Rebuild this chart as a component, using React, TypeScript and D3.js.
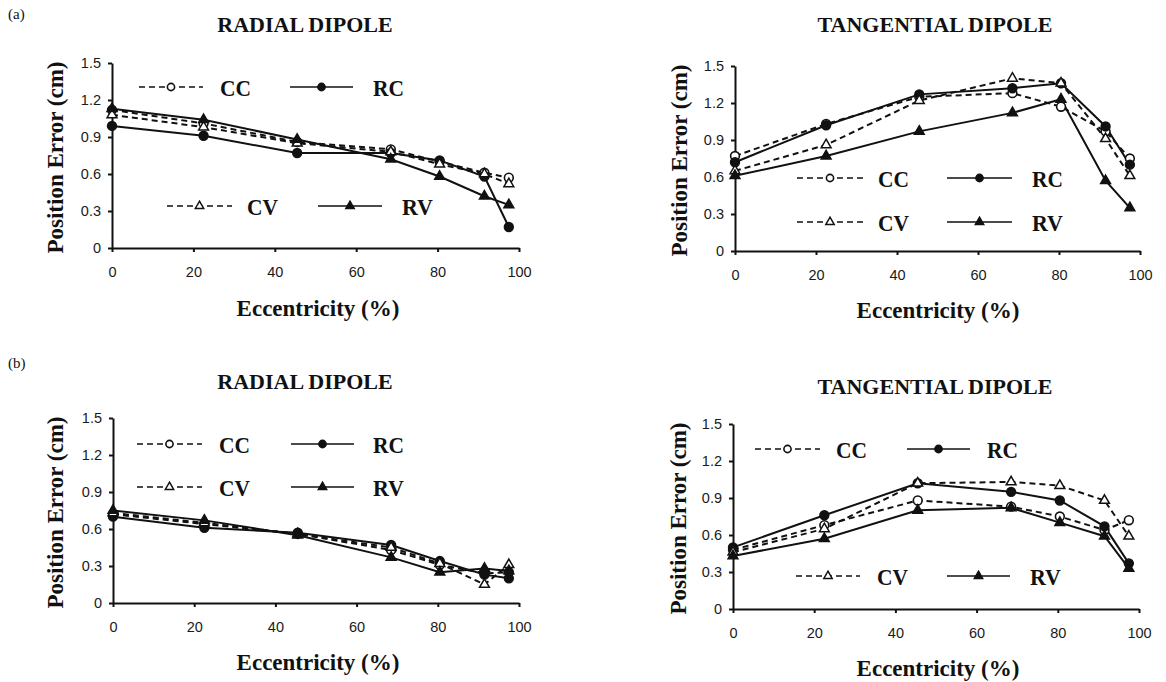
import { useEffect, useRef } from "react";
import * as d3 from "d3";

const W = 1166;
const H = 682;

// eccentricity (%) of the test dipoles, shared by every panel
const eccentricity = [0, 22.5, 45.5, 68.5, 80.5, 91.5, 97.5];
const xTicks = [0, 20, 40, 60, 80, 100];
const yTicks = [0, 0.3, 0.6, 0.9, 1.2, 1.5];
const seriesNames = ["CC", "RC", "CV", "RV"];

// (a) radial dipole, position error (cm)
const aRadialCC = [1.12, 1.01, 0.86, 0.8, 0.7, 0.61, 0.57];
const aRadialRC = [0.99, 0.91, 0.77, 0.77, 0.71, 0.58, 0.17];
const aRadialCV = [1.08, 0.98, 0.85, 0.78, 0.68, 0.6, 0.52];
const aRadialRV = [1.13, 1.04, 0.88, 0.72, 0.58, 0.42, 0.35];

// (a) tangential dipole
const aTangCC = [0.77, 1.03, 1.25, 1.28, 1.17, 0.97, 0.75];
const aTangRC = [0.72, 1.02, 1.27, 1.32, 1.36, 1.01, 0.7];
const aTangCV = [0.65, 0.86, 1.22, 1.4, 1.36, 0.91, 0.61];
const aTangRV = [0.61, 0.77, 0.97, 1.12, 1.23, 0.57, 0.35];

// (b) radial dipole
const bRadialCC = [0.72, 0.64, 0.56, 0.43, 0.31, 0.24, 0.25];
const bRadialRC = [0.7, 0.61, 0.57, 0.47, 0.34, 0.23, 0.2];
const bRadialCV = [0.73, 0.65, 0.56, 0.45, 0.32, 0.15, 0.31];
const bRadialRV = [0.75, 0.67, 0.55, 0.37, 0.25, 0.28, 0.26];

// (b) tangential dipole
const bTangCC = [0.48, 0.68, 0.88, 0.83, 0.75, 0.64, 0.72];
const bTangRC = [0.5, 0.76, 1.02, 0.95, 0.88, 0.67, 0.37];
const bTangCV = [0.46, 0.65, 1.02, 1.03, 1.0, 0.88, 0.59];
const bTangRV = [0.43, 0.57, 0.8, 0.82, 0.7, 0.59, 0.33];

const SERIF = "'Liberation Serif', 'Times New Roman', serif";
const SANS = "'Liberation Sans', Arial, sans-serif";
const INK = "#111";

const styles: any = {
  CC: { dashed: true, shape: "circle", filled: false },
  RC: { dashed: false, shape: "circle", filled: true },
  CV: { dashed: true, shape: "triangle", filled: false },
  RV: { dashed: false, shape: "triangle", filled: true },
};

// legend rows: [lineStart, lineEnd, y, textX] in CC, RC, CV, RV order
const panels = [
  {
    tag: "(a)", tagY: 19,
    title: "RADIAL DIPOLE", titleX: 305, titleY: 32,
    values: { CC: aRadialCC, RC: aRadialRC, CV: aRadialCV, RV: aRadialRV },
    left: 112, right: 519, top: 63, bottom: 248,
    xLabelX: 318, xLabelY: 316, yLabelX: 55,
    legend: [[139, 203, 87, 220], [290, 353, 87, 373], [167, 232, 206, 247], [318, 382, 206, 402]],
  },
  {
    tag: null, tagY: 0,
    title: "TANGENTIAL DIPOLE", titleX: 935, titleY: 32,
    values: { CC: aTangCC, RC: aTangRC, CV: aTangCV, RV: aTangRV },
    left: 735, right: 1140, top: 66, bottom: 251,
    xLabelX: 938, xLabelY: 318, yLabelX: 679,
    legend: [[797, 863, 178, 878], [947, 1012, 178, 1032], [797, 863, 222, 878], [947, 1012, 222, 1032]],
  },
  {
    tag: "(b)", tagY: 368,
    title: "RADIAL DIPOLE", titleX: 305, titleY: 389,
    values: { CC: bRadialCC, RC: bRadialRC, CV: bRadialCV, RV: bRadialRV },
    left: 113, right: 519, top: 418, bottom: 603,
    xLabelX: 318, xLabelY: 670, yLabelX: 55,
    legend: [[137, 202, 444, 219], [291, 354, 444, 373], [137, 202, 487, 219], [291, 354, 487, 373]],
  },
  {
    tag: null, tagY: 0,
    title: "TANGENTIAL DIPOLE", titleX: 935, titleY: 394,
    values: { CC: bTangCC, RC: bTangRC, CV: bTangCV, RV: bTangRV },
    left: 733, right: 1139, top: 424, bottom: 609,
    xLabelX: 938, xLabelY: 676, yLabelX: 678,
    legend: [[755, 820, 449, 836], [907, 970, 449, 987], [796, 860, 576, 877], [947, 1010, 576, 1030]],
  },
];

function marker(g: any, st: any, cx: number, cy: number, small: boolean) {
  if (st.shape === "circle") {
    g.append("circle")
      .attr("cx", cx)
      .attr("cy", cy)
      .attr("r", small ? 3.6 : 4.4)
      .attr("fill", st.filled ? INK : "#fff")
      .attr("stroke", INK)
      .attr("stroke-width", 1.6);
  } else {
    g.append("path")
      .attr("d", d3.symbol(d3.symbolTriangle, small ? 30 : 42)())
      .attr("transform", `translate(${cx},${cy})`)
      .attr("fill", st.filled ? INK : "#fff")
      .attr("stroke", INK)
      .attr("stroke-width", 1.5);
  }
}

function drawPanel(svg: any, p: any) {
  const x = d3.scaleLinear().domain([0, 100]).range([p.left, p.right]);
  const y = d3.scaleLinear().domain([0, 1.5]).range([p.bottom, p.top]);
  const g = svg.append("g");

  const yAxis = d3
    .axisLeft(y)
    .tickValues(yTicks)
    .tickSize(4)
    .tickSizeOuter(0)
    .tickPadding(7)
    .tickFormat((d: any) => (d === 0 ? "0" : d3.format(".1f")(d)));
  const xAxis = d3
    .axisBottom(x)
    .tickValues(xTicks)
    .tickSize(4)
    .tickSizeOuter(0)
    .tickPadding(15)
    .tickFormat(d3.format("d") as any);

  const axes = [
    g.append("g").attr("transform", `translate(${p.left},0)`).call(yAxis),
    g.append("g").attr("transform", `translate(0,${p.bottom})`).call(xAxis),
  ];
  axes.forEach((a) => {
    a.attr("font-family", SANS).attr("font-size", 14.5);
    a.selectAll("path, line").attr("stroke", INK).attr("stroke-width", 2);
    a.selectAll("text").attr("fill", "#1a1a1a");
  });

  const line = d3
    .line<number>()
    .x((d, i) => x(eccentricity[i]))
    .y((d) => y(d));

  seriesNames.forEach((name) => {
    const st = styles[name];
    g.append("path")
      .datum(p.values[name])
      .attr("d", line)
      .attr("fill", "none")
      .attr("stroke", INK)
      .attr("stroke-width", 2)
      .attr("stroke-dasharray", st.dashed ? "6,4" : null);
  });
  seriesNames.forEach((name) => {
    p.values[name].forEach((v: number, i: number) =>
      marker(g, styles[name], x(eccentricity[i]), y(v), false)
    );
  });

  // legend
  seriesNames.forEach((name, k) => {
    const [x1, x2, ly, tx] = p.legend[k];
    const st = styles[name];
    g.append("line")
      .attr("x1", x1)
      .attr("x2", x2)
      .attr("y1", ly)
      .attr("y2", ly)
      .attr("stroke", INK)
      .attr("stroke-width", 1.7)
      .attr("stroke-dasharray", st.dashed ? "6,4" : null);
    marker(g, st, (x1 + x2) / 2, ly, true);
    g.append("text")
      .attr("x", tx)
      .attr("y", ly + 8.5)
      .attr("font-family", SERIF)
      .attr("font-weight", "bold")
      .attr("font-size", 24)
      .attr("textLength", 31)
      .attr("lengthAdjust", "spacingAndGlyphs")
      .attr("fill", INK)
      .text(name);
  });

  g.append("text")
    .attr("x", p.titleX)
    .attr("y", p.titleY)
    .attr("text-anchor", "middle")
    .attr("font-family", SERIF)
    .attr("font-weight", "bold")
    .attr("font-size", 22)
    .attr("fill", INK)
    .text(p.title);

  g.append("text")
    .attr("x", p.xLabelX)
    .attr("y", p.xLabelY)
    .attr("text-anchor", "middle")
    .attr("font-family", SERIF)
    .attr("font-weight", "bold")
    .attr("font-size", 23)
    .attr("fill", INK)
    .text("Eccentricity (%)");

  g.append("text")
    .attr("transform", `translate(${p.yLabelX},${(p.top + p.bottom) / 2 + 2}) rotate(-90)`)
    .attr("text-anchor", "middle")
    .attr("dy", "0.35em")
    .attr("font-family", SERIF)
    .attr("font-weight", "bold")
    .attr("font-size", 23)
    .attr("fill", INK)
    .text("Position Error (cm)");

  if (p.tag) {
    g.append("text")
      .attr("x", 8)
      .attr("y", p.tagY)
      .attr("font-family", SERIF)
      .attr("font-size", 15)
      .attr("fill", INK)
      .text(p.tag);
  }
}

export default function App() {
  const ref = useRef<SVGSVGElement>(null);

  useEffect(() => {
    const svg = d3.select(ref.current);
    svg.selectAll("*").remove();
    svg.append("rect").attr("width", W).attr("height", H).attr("fill", "#fff");
    panels.forEach((p) => drawPanel(svg, p));
    return () => {
      svg.selectAll("*").remove();
    };
  }, []);

  return (
    <svg
      ref={ref}
      width={W}
      height={H}
      style={{ position: "absolute", left: 0, top: 0, display: "block" }}
    />
  );
}
